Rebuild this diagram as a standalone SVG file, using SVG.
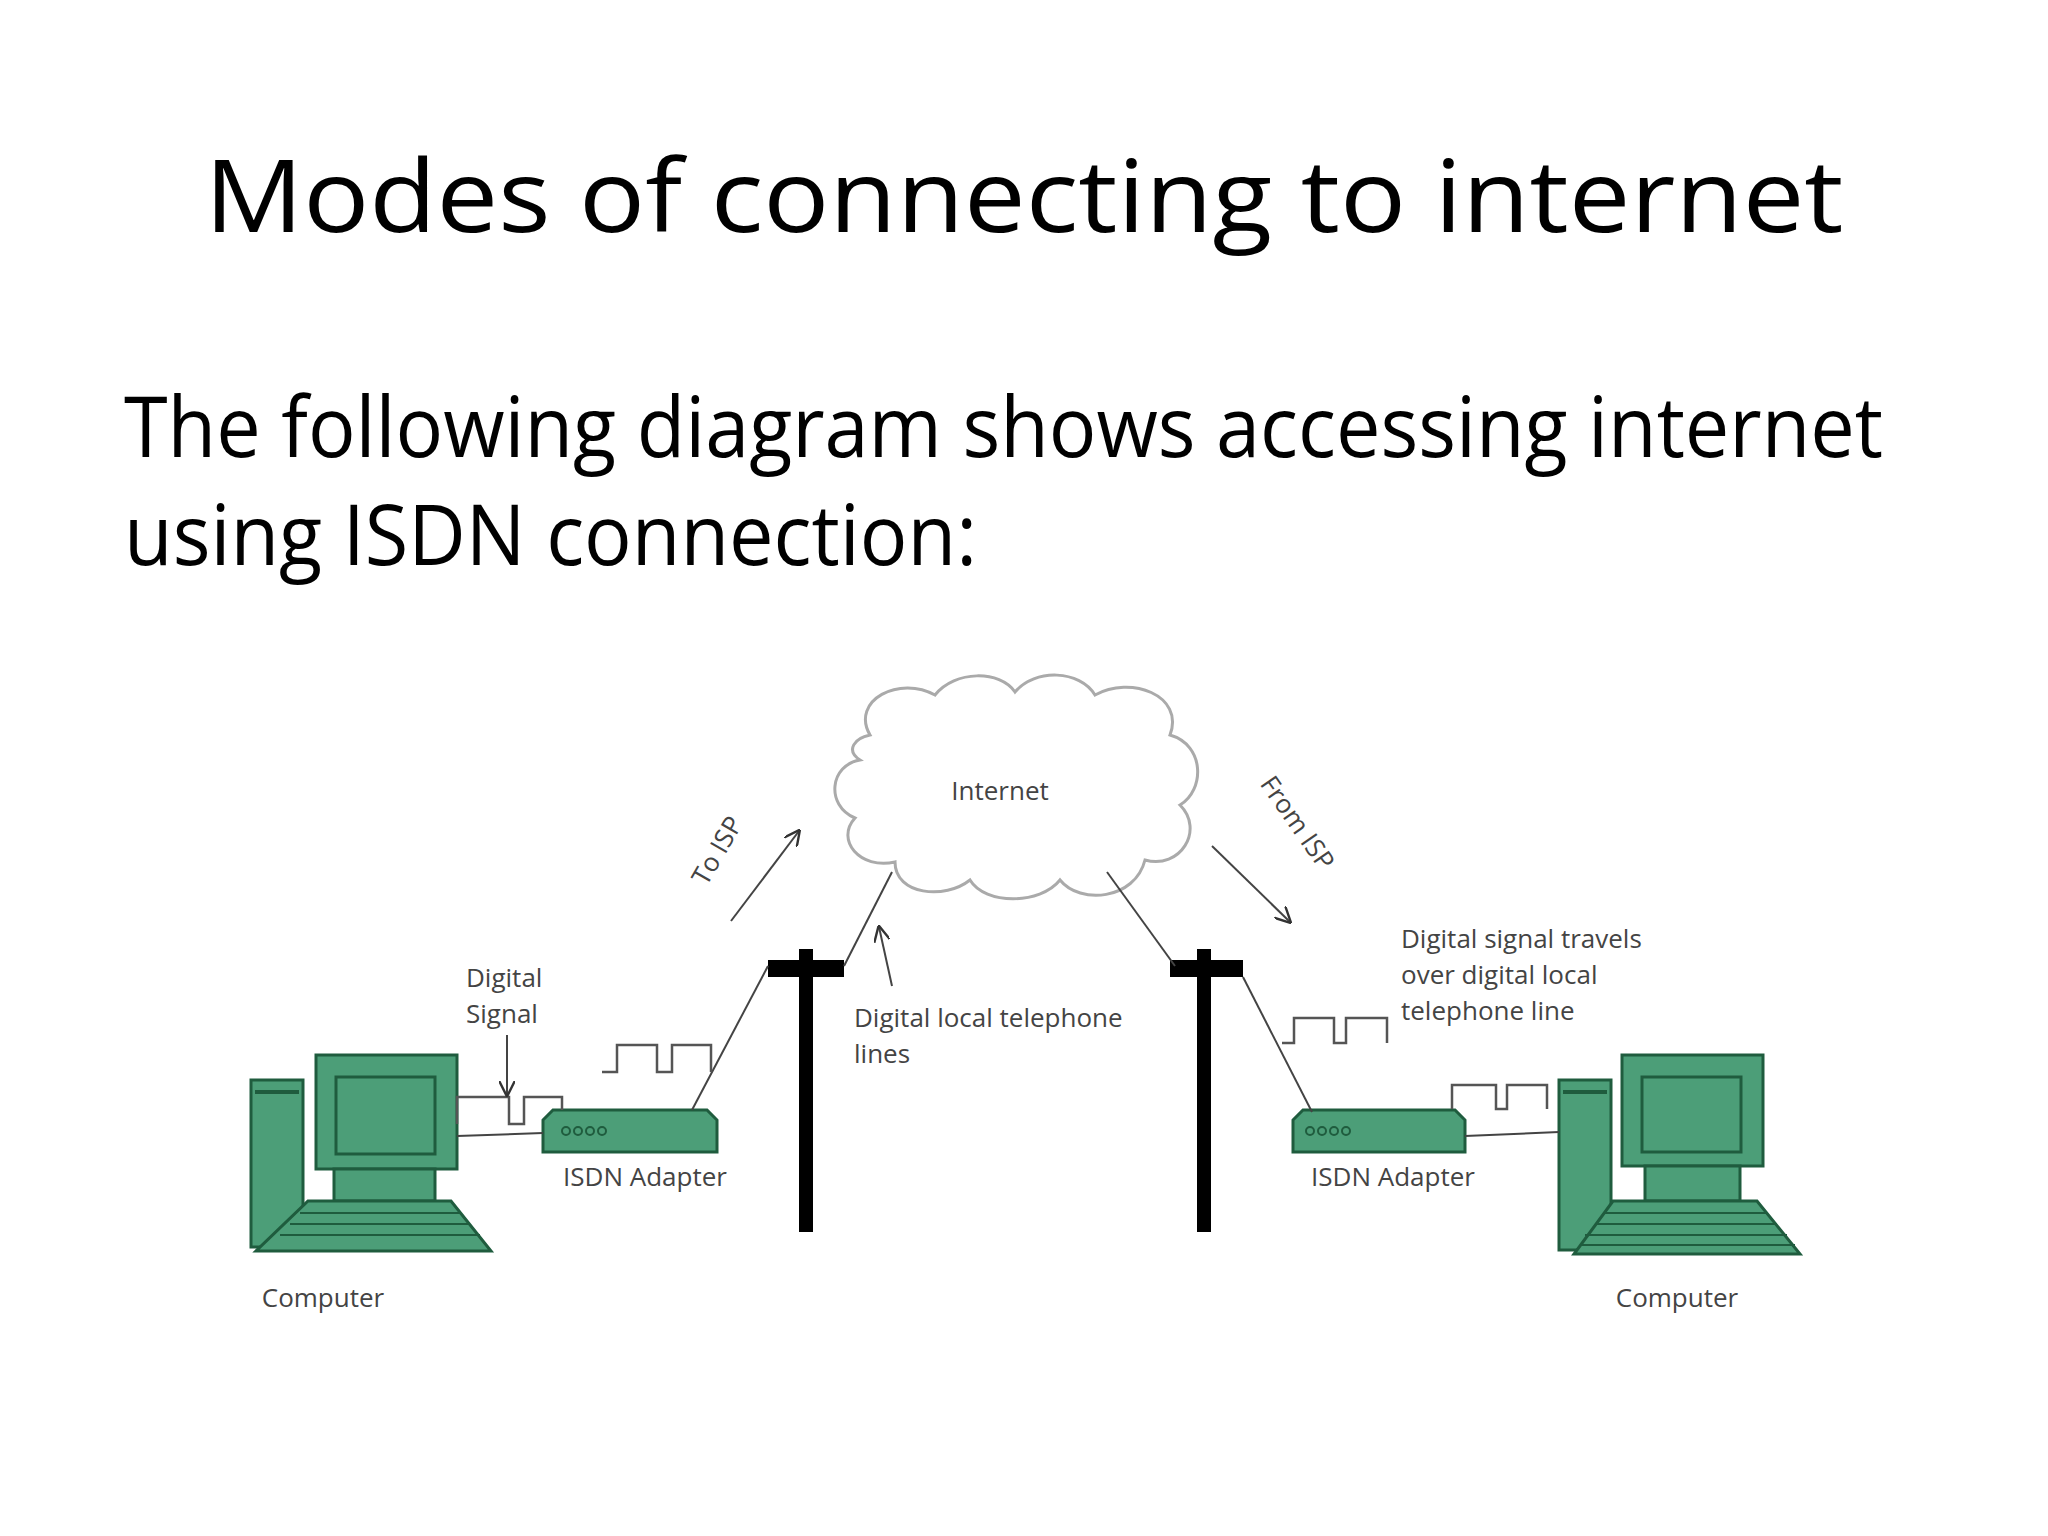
<svg xmlns="http://www.w3.org/2000/svg" width="2048" height="1536" viewBox="0 0 2048 1536">
<defs>
<marker id="ah" viewBox="0 0 10 10" refX="9" refY="5" markerWidth="8" markerHeight="8" orient="auto"><path d="M0,0 L10,5 L0,10" fill="none" stroke="#333" stroke-width="1.5"/></marker>
</defs>
<style>
.t{font-family:"Open Sans","Liberation Sans",sans-serif;fill:#000}
.l{font-family:"Open Sans","Liberation Sans",sans-serif;fill:#444;font-size:26px}
.g{fill:#4c9e78;stroke:#1f5c3e;stroke-width:3}
.w{fill:none;stroke:#555;stroke-width:2.5}
.ln{stroke:#444;stroke-width:2;fill:none}
.p{fill:#000}
</style>
<rect width="2048" height="1536" fill="#fff"/>
<text class="t" x="1024" y="232" font-size="100" text-anchor="middle" textLength="1639" lengthAdjust="spacingAndGlyphs">Modes of connecting to internet</text>
<text class="t" x="124" y="457" font-size="84" textLength="1759" lengthAdjust="spacingAndGlyphs">The following diagram shows accessing internet</text>
<text class="t" x="124" y="565" font-size="84" textLength="853" lengthAdjust="spacingAndGlyphs">using ISDN connection:</text>

<g id="internet">
<path d="M870,735 C850,700 900,675 935,695 C955,670 1000,670 1015,692 C1035,668 1080,670 1095,695 C1130,675 1185,695 1170,735 C1205,745 1205,790 1180,805 C1205,830 1180,870 1145,860 C1135,900 1080,905 1060,880 C1040,905 985,905 970,880 C945,900 895,895 895,862 C860,870 835,840 855,818 C825,805 830,765 860,760 C845,750 855,738 870,735 Z" fill="#fff" stroke="#aaa" stroke-width="3"/>
<text class="l" x="1000" y="800" text-anchor="middle">Internet</text>
</g>
<g id="pole-left"><rect class="p" x="799" y="949" width="14" height="283"/><rect class="p" x="768" y="960" width="76" height="17"/></g>
<g id="pole-right"><rect class="p" x="1197" y="949" width="14" height="283"/><rect class="p" x="1170" y="960" width="73" height="17"/></g>

<g id="computer-left">
<rect class="g" x="251" y="1080" width="52" height="167"/><line x1="255" y1="1092" x2="299" y2="1092" stroke="#1f5c3e" stroke-width="4"/>
<rect class="g" x="316" y="1055" width="141" height="114"/><rect class="g" x="336" y="1077" width="99" height="77"/>
<rect class="g" x="334" y="1169" width="101" height="32"/>
<path class="g" d="M308,1201 L451,1201 L491,1251 L256,1251 Z"/>
<path d="M300,1213 L460,1213 M290,1224 L470,1224 M280,1235 L480,1235" stroke="#1f5c3e" stroke-width="2"/>
<text class="l" x="323" y="1307" text-anchor="middle">Computer</text>
</g>
<g id="adapter-left">
<path class="g" d="M543,1120 L553,1110 L707,1110 L717,1120 L717,1152 L543,1152 Z"/>
<g fill="none" stroke="#1f5c3e" stroke-width="2"><circle cx="566" cy="1131" r="4"/><circle cx="578" cy="1131" r="4"/><circle cx="590" cy="1131" r="4"/><circle cx="602" cy="1131" r="4"/></g>
<text class="l" x="645" y="1186" text-anchor="middle">ISDN Adapter</text>
</g>
<g id="adapter-right">
<path class="g" d="M1293,1120 L1303,1110 L1455,1110 L1465,1120 L1465,1152 L1293,1152 Z"/>
<g fill="none" stroke="#1f5c3e" stroke-width="2"><circle cx="1310" cy="1131" r="4"/><circle cx="1322" cy="1131" r="4"/><circle cx="1334" cy="1131" r="4"/><circle cx="1346" cy="1131" r="4"/></g>
<text class="l" x="1393" y="1186" text-anchor="middle">ISDN Adapter</text>
</g>
<g id="computer-right">
<rect class="g" x="1559" y="1080" width="52" height="170"/><line x1="1563" y1="1092" x2="1607" y2="1092" stroke="#1f5c3e" stroke-width="4"/>
<rect class="g" x="1622" y="1055" width="141" height="111"/><rect class="g" x="1642" y="1077" width="99" height="75"/>
<rect class="g" x="1645" y="1166" width="95" height="35"/>
<path class="g" d="M1613,1201 L1757,1201 L1800,1254 L1574,1254 Z"/>
<path d="M1605,1213 L1767,1213 M1595,1224 L1777,1224 M1585,1235 L1787,1235 M1580,1245 L1795,1245" stroke="#1f5c3e" stroke-width="2"/>
<text class="l" x="1677" y="1307" text-anchor="middle">Computer</text>
</g>

<g id="connectors">
<line class="ln" x1="892" y1="872" x2="844" y2="966"/>
<line class="ln" x1="768" y1="966" x2="692" y2="1110"/>
<line class="ln" x1="1107" y1="872" x2="1175" y2="966"/>
<line class="ln" x1="1243" y1="977" x2="1312" y2="1112"/>
<line class="ln" x1="457" y1="1136" x2="543" y2="1133"/>
<line class="ln" x1="1465" y1="1136" x2="1559" y2="1132"/>
<path class="w" d="M457,1124 L457,1097 L509,1097 L509,1124 L524,1124 L524,1097 L562,1097 L562,1110"/>
<path class="w" d="M602,1072 L617,1072 L617,1045 L657,1045 L657,1072 L672,1072 L672,1045 L711,1045 L711,1072"/>
<path class="w" d="M1282,1043 L1294,1043 L1294,1018 L1334,1018 L1334,1043 L1346,1043 L1346,1018 L1387,1018 L1387,1043"/>
<path class="w" d="M1452,1109 L1452,1085 L1496,1085 L1496,1109 L1507,1109 L1507,1085 L1547,1085 L1547,1109"/>
<line class="ln" x1="507" y1="1035" x2="507" y2="1095" marker-end="url(#ah)"/>
<line class="ln" x1="731" y1="921" x2="799" y2="831" marker-end="url(#ah)"/>
<line class="ln" x1="892" y1="986" x2="879" y2="927" marker-end="url(#ah)"/>
<line class="ln" x1="1212" y1="846" x2="1290" y2="922" marker-end="url(#ah)"/>
</g>

<g id="labels">
<text class="l" x="466" y="987">Digital</text>
<text class="l" x="466" y="1023">Signal</text>
<text class="l" transform="translate(725,855) rotate(-60)" text-anchor="middle">To ISP</text>
<text class="l" x="854" y="1027">Digital local telephone</text>
<text class="l" x="854" y="1063">lines</text>
<text class="l" transform="translate(1290,828) rotate(55)" text-anchor="middle">From ISP</text>
<text class="l" x="1401" y="948">Digital signal travels</text>
<text class="l" x="1401" y="984">over digital local</text>
<text class="l" x="1401" y="1020">telephone line</text>
</g>
</svg>
